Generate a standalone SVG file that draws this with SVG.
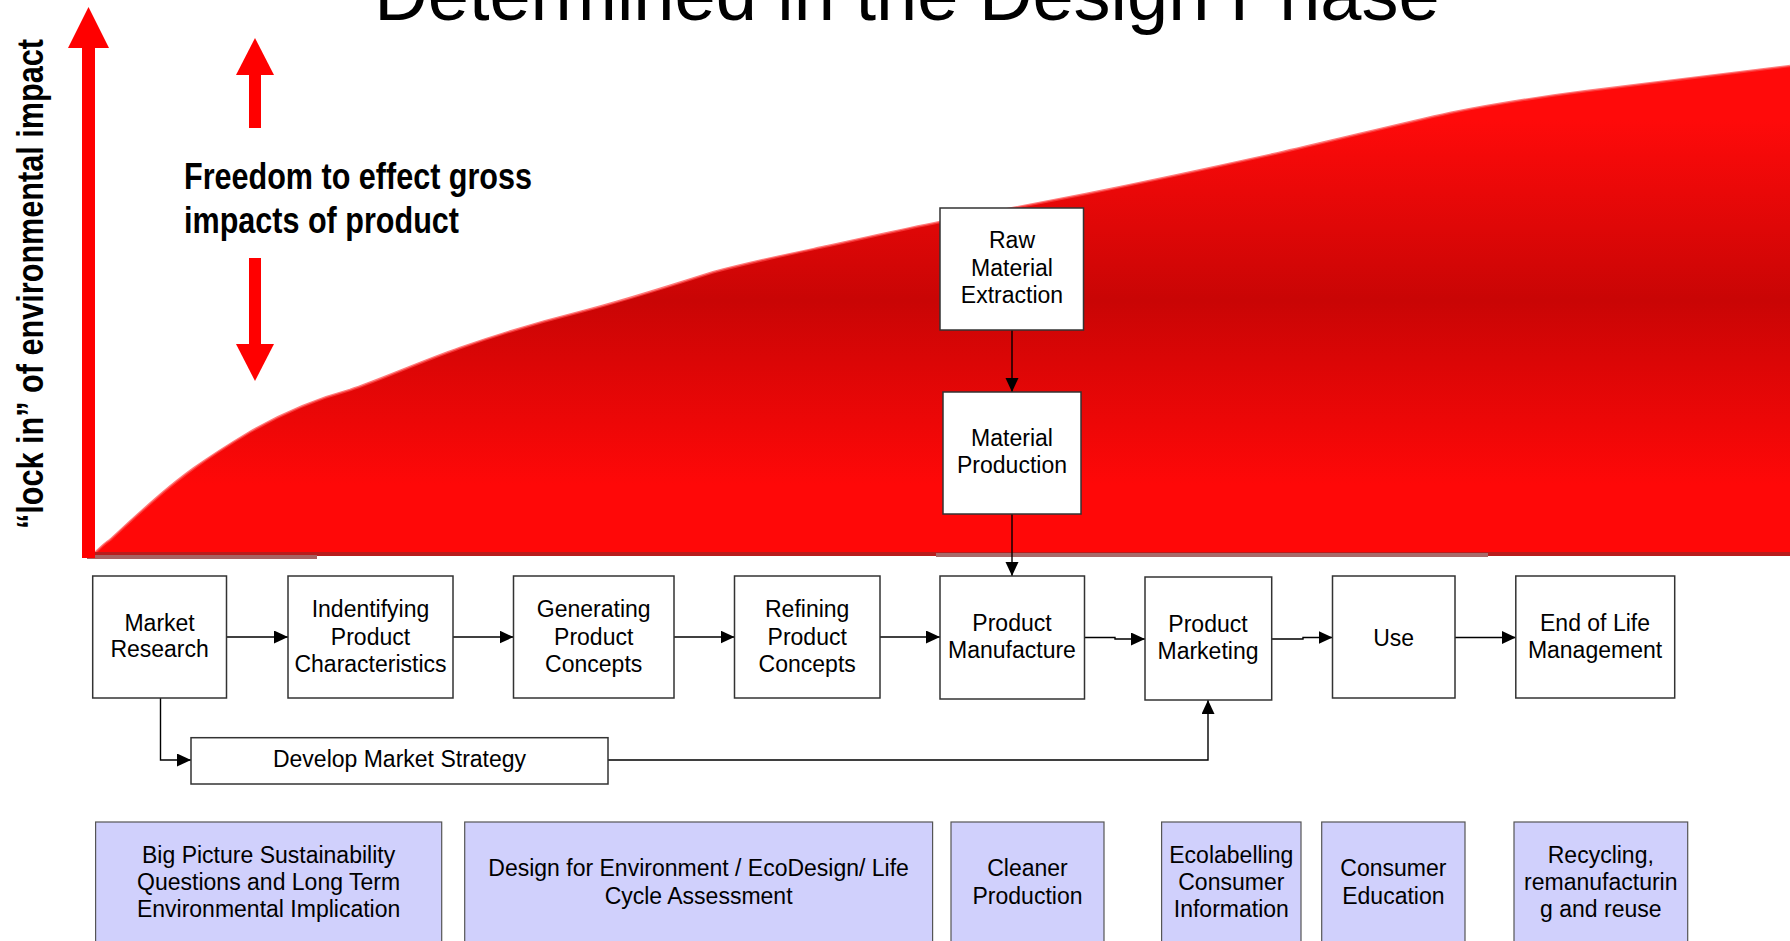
<svg xmlns="http://www.w3.org/2000/svg" width="1790" height="941" viewBox="0 0 1790 941">
<defs>
<style>
.bx{fill:#ffffff;stroke:#333333;stroke-width:1.5}
.bl{fill:#d0d0fc;stroke:#555555;stroke-width:1.2}
.t{font-family:"Liberation Sans",Arial,sans-serif;font-size:23px;fill:#000;text-anchor:middle}
.c{fill:none;stroke:#000;stroke-width:1.4}
.red{fill:#ff0000}
.bold{font-family:"Liberation Sans",Arial,sans-serif;font-weight:bold;fill:#000}
</style>
<marker id="ah" markerUnits="userSpaceOnUse" markerWidth="15" markerHeight="14" refX="14" refY="6.5" orient="auto" viewBox="0 0 15 14">
<path d="M0,0 L14,6.5 L0,13 z" fill="#000"/>
</marker>
<linearGradient id="rg" gradientUnits="userSpaceOnUse" x1="0" y1="66" x2="0" y2="553">
<stop offset="0" stop-color="#ff0a0a"/>
<stop offset="0.11" stop-color="#ff0a0a"/>
<stop offset="0.48" stop-color="#c90505"/>
<stop offset="0.86" stop-color="#ff0808"/>
<stop offset="1" stop-color="#ff0808"/>
</linearGradient>
</defs>

<g id="title">
<text x="907" y="20" font-family="'Liberation Sans',Arial,sans-serif" font-size="74" text-anchor="middle" fill="#000">Determined in the Design Phase</text>
</g>

<g id="curve">
<path d="M95,555 L95,553 C100,548 105,543 110,540 C120,531 130,521 160,495 C180,478 200,462 250,432 C285,412 320,398 350,390 C380,380 420,362 460,348 C500,334 540,322 580,312 C620,302 670,286 714,272 C760,260 800,252 828,246 C870,237 900,230 940,222 C990,212 1040,203 1086,194 C1150,181 1220,166 1283,152 C1340,139 1400,124 1450,113 C1500,103 1540,97 1587,91 C1650,83 1720,74 1790,66 L1790,553 Z" fill="url(#rg)"/>
<path d="M95,553 C100,548 105,543 110,540 C120,531 130,521 160,495 C180,478 200,462 250,432 C285,412 320,398 350,390 C380,380 420,362 460,348 C500,334 540,322 580,312 C620,302 670,286 714,272 C760,260 800,252 828,246 C870,237 900,230 940,222 C990,212 1040,203 1086,194 C1150,181 1220,166 1283,152 C1340,139 1400,124 1450,113 C1500,103 1540,97 1587,91 C1650,83 1720,74 1790,66" fill="none" stroke="#ff4444" stroke-width="2.5" opacity="0.7"/>
<rect x="85" y="552" width="1705" height="4" fill="#b81c1c"/>
<rect x="87" y="555" width="230" height="4" fill="#a86262"/>
<rect x="936" y="553" width="552" height="4" fill="#a86a6a"/>
</g>

<g id="y-axis">
<rect class="red" x="82" y="46" width="13" height="512"/>
<polygon class="red" points="68,48 88.5,7 109,48"/>
<text class="bold" font-size="36" transform="translate(43,529) rotate(-90)" textLength="490" lengthAdjust="spacingAndGlyphs">“lock in” of environmental impact</text>
</g>

<g id="freedom">
<rect class="red" x="249" y="73" width="12" height="55"/>
<polygon class="red" points="236,75 255,38 274,75"/>
<rect class="red" x="249" y="258" width="12" height="88"/>
<polygon class="red" points="236,344 255,381 274,344"/>
<text class="bold" font-size="36" x="184" y="189" textLength="348" lengthAdjust="spacingAndGlyphs">Freedom to effect gross</text>
<text class="bold" font-size="36" x="184" y="233" textLength="275" lengthAdjust="spacingAndGlyphs">impacts of product</text>
</g>

<g id="connectors">
<path class="c" marker-end="url(#ah)" d="M226.5,637 H288"/>
<path class="c" marker-end="url(#ah)" d="M453,637 H513.5"/>
<path class="c" marker-end="url(#ah)" d="M674,637 H734.5"/>
<path class="c" marker-end="url(#ah)" d="M880,637 H940"/>
<path class="c" marker-end="url(#ah)" d="M1084.5,637.5 H1115 V639 H1145"/>
<path class="c" marker-end="url(#ah)" d="M1271.7,639 H1303 V637.5 H1332.5"/>
<path class="c" marker-end="url(#ah)" d="M1455,637.5 H1515.8"/>
<path class="c" marker-end="url(#ah)" d="M1012,330 V392"/>
<path class="c" marker-end="url(#ah)" d="M1012,514 V576"/>
<path class="c" marker-end="url(#ah)" d="M160.5,698 V760 H191"/>
<path class="c" marker-end="url(#ah)" d="M608,760 H1208 V700"/>
</g>

<g id="raw-material">
<rect class="bx" x="940" y="208" width="143.5" height="122"/>
<text class="t" x="1012" y="248">Raw</text>
<text class="t" x="1012" y="275.5">Material</text>
<text class="t" x="1012" y="303">Extraction</text>
</g>
<g id="material-production">
<rect class="bx" x="943" y="392" width="138" height="122"/>
<text class="t" x="1012" y="445.5">Material</text>
<text class="t" x="1012" y="473">Production</text>
</g>

<g id="market-research">
<rect class="bx" x="92.7" y="576" width="133.8" height="122"/>
<text class="t" x="159.6" y="630.5">Market</text>
<text class="t" x="159.6" y="657">Research</text>
</g>
<g id="identifying">
<rect class="bx" x="288" y="576" width="165" height="122"/>
<text class="t" x="370.5" y="617">Indentifying</text>
<text class="t" x="370.5" y="644.5">Product</text>
<text class="t" x="370.5" y="671.5">Characteristics</text>
</g>
<g id="generating">
<rect class="bx" x="513.5" y="576" width="160.5" height="122"/>
<text class="t" x="593.7" y="617">Generating</text>
<text class="t" x="593.7" y="644.5">Product</text>
<text class="t" x="593.7" y="671.5">Concepts</text>
</g>
<g id="refining">
<rect class="bx" x="734.5" y="576" width="145.5" height="122"/>
<text class="t" x="807.2" y="617">Refining</text>
<text class="t" x="807.2" y="644.5">Product</text>
<text class="t" x="807.2" y="671.5">Concepts</text>
</g>
<g id="product-manufacture">
<rect class="bx" x="940" y="576" width="144.5" height="123"/>
<text class="t" x="1012" y="630.5">Product</text>
<text class="t" x="1012" y="658">Manufacture</text>
</g>
<g id="product-marketing">
<rect class="bx" x="1145" y="577" width="126.7" height="123"/>
<text class="t" x="1208" y="631.5">Product</text>
<text class="t" x="1208" y="659">Marketing</text>
</g>
<g id="use">
<rect class="bx" x="1332.5" y="576" width="122.5" height="122"/>
<text class="t" x="1393.7" y="645.5">Use</text>
</g>
<g id="end-of-life">
<rect class="bx" x="1515.8" y="576" width="158.9" height="122"/>
<text class="t" x="1595" y="630.5">End of Life</text>
<text class="t" x="1595" y="658">Management</text>
</g>
<g id="market-strategy">
<rect class="bx" x="191" y="737.7" width="417" height="46.3"/>
<text class="t" x="399.5" y="767">Develop Market Strategy</text>
</g>

<g id="big-picture">
<rect class="bl" x="95.6" y="822" width="346.1" height="125"/>
<text class="t" x="268.6" y="862.5">Big Picture Sustainability</text>
<text class="t" x="268.6" y="889.5">Questions and Long Term</text>
<text class="t" x="268.6" y="917">Environmental Implication</text>
</g>
<g id="design-for-environment">
<rect class="bl" x="464.7" y="822" width="467.9" height="125"/>
<text class="t" x="698.6" y="876">Design for Environment / EcoDesign/ Life</text>
<text class="t" x="698.6" y="903.5">Cycle Assessment</text>
</g>
<g id="cleaner-production">
<rect class="bl" x="951" y="822" width="153" height="125"/>
<text class="t" x="1027.5" y="876">Cleaner</text>
<text class="t" x="1027.5" y="903.5">Production</text>
</g>
<g id="ecolabelling">
<rect class="bl" x="1161.6" y="822" width="139.4" height="125"/>
<text class="t" x="1231.3" y="862.5">Ecolabelling</text>
<text class="t" x="1231.3" y="889.5">Consumer</text>
<text class="t" x="1231.3" y="917">Information</text>
</g>
<g id="consumer-education">
<rect class="bl" x="1321.7" y="822" width="143.3" height="125"/>
<text class="t" x="1393.4" y="876">Consumer</text>
<text class="t" x="1393.4" y="903.5">Education</text>
</g>
<g id="recycling">
<rect class="bl" x="1514" y="822" width="173.7" height="125"/>
<text class="t" x="1600.8" y="862.5">Recycling,</text>
<text class="t" x="1600.8" y="889.5">remanufacturin</text>
<text class="t" x="1600.8" y="917">g and reuse</text>
</g>
</svg>
